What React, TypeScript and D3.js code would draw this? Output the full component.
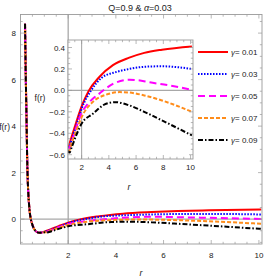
import React from "react";
import * as d3 from "d3";

// shared steep part near the origin (all curves overlap here)
const rNear = [0.19, 0.22, 0.25, 0.28, 0.31, 0.35, 0.4, 0.47, 0.56, 0.67, 0.8, 0.95];
const fNear = [8.4, 6.2, 4.5, 2.6, 1.5, 0.75, 0.2, -0.15, -0.4, -0.54, -0.59, -0.56];

const gammaLabels = ["0.01", "0.03", "0.05", "0.07", "0.09"];

const rRed = [1.1, 1.3, 1.6, 2, 2.5, 3.3, 4.3, 5.5, 6.6, 7.9, 10.1];
const fRed = [-0.5, -0.42, -0.3, -0.15, -0.01, 0.125, 0.235, 0.305, 0.35, 0.38, 0.41];
const rBlue = [1.1, 1.3, 1.6, 2, 2.7, 3.5, 4.5, 5.5, 6.6, 7.9, 10.1];
const fBlue = [-0.52, -0.45, -0.33, -0.17, 0, 0.12, 0.17, 0.2, 0.22, 0.225, 0.2];
const rMag = [1.1, 1.3, 1.6, 2, 2.3, 2.8, 3.3, 4.3, 5.5, 6.1, 7, 8.4, 10.1];
const fMag = [-0.54, -0.47, -0.35, -0.21, -0.15, -0.08, -0.03, 0.06, 0.1, 0.095, 0.075, 0.047, 0.005];
const rOrange = [1.1, 1.3, 1.6, 2, 2.8, 3.8, 4.8, 5.5, 6.6, 7.9, 10.1];
const fOrange = [-0.56, -0.48, -0.38, -0.25, -0.11, -0.04, -0.016, -0.02, -0.047, -0.094, -0.2];
const rBlack = [1.1, 1.3, 1.6, 2, 2.8, 3.8, 4.5, 5.5, 6.6, 7.9, 10.1];
const fBlack = [-0.58, -0.52, -0.42, -0.31, -0.22, -0.125, -0.11, -0.14, -0.2, -0.28, -0.42];

const mainXTicks = [2, 4, 6, 8, 10];
const mainYTicks = [0, 2, 4, 6, 8];
const insetXTicks = [2, 4, 6, 8, 10];
const insetYTicks = [0.4, 0.2, 0.0, -0.2, -0.4, -0.6];

const styles = [
  { color: "#ff0000", dash: "none" },
  { color: "#0000ff", dash: "1.5,1.5" },
  { color: "#ff00ff", dash: "7,4" },
  { color: "#ff8c1a", dash: "4,2" },
  { color: "#000000", dash: "5,2,1.5,2" },
];

const seriesR = [rRed, rBlue, rMag, rOrange, rBlack];
const seriesF = [fRed, fBlue, fMag, fOrange, fBlack];

const font = "'Liberation Sans', Arial, sans-serif";
const frameCol = "#9a9a9a";

function Frame({ x, y, xTicks, yTicks, xMinor, yMinor }: any) {
  const [x0, x1] = x.range();
  const [y0, y1] = y.range(); // y0 bottom, y1 top
  const els: any[] = [];
  const add = (k: string, a: number, b: number, c: number, d: number) =>
    els.push(<line key={k} x1={a} y1={b} x2={c} y2={d} stroke={frameCol} strokeWidth={0.7} />);
  xMinor.forEach((v: number, i: number) => {
    const px = x(v);
    const len = xTicks.includes(v) ? 4 : 2.2;
    add("xb" + i, px, y0, px, y0 - len);
    add("xt" + i, px, y1, px, y1 + len);
  });
  yMinor.forEach((v: number, i: number) => {
    const py = y(v);
    const len = yTicks.some((t: number) => Math.abs(t - v) < 1e-9) ? 4 : 2.2;
    add("yl" + i, x0, py, x0 + len, py);
    add("yr" + i, x1, py, x1 - len, py);
  });
  return (
    <g>
      {els}
      <rect x={x0} y={y1} width={x1 - x0} height={y0 - y1} fill="none" stroke={frameCol} strokeWidth={0.9} />
    </g>
  );
}

export default function App() {
  // main plot
  const x = d3.scaleLinear().domain([0, 10.13]).range([20.5, 262]);
  const y = d3.scaleLinear().domain([-1.07, 8.8]).range([244, 14.5]);
  // inset
  const xi = d3.scaleLinear().domain([1.0, 10.18]).range([68, 193]);
  const yi = d3.scaleLinear().domain([-0.64, 0.47]).range([159, 40]);

  const mainLine = d3.line<number[]>().x((d) => x(d[0])).y((d) => y(d[1])).curve(d3.curveMonotoneX);
  const insetLine = d3.line<number[]>().x((d) => xi(d[0])).y((d) => yi(d[1])).curve(d3.curveMonotoneX);

  const near = rNear.map((r, i) => [r, fNear[i]]);
  const series = seriesR.map((rs, s) => rs.map((r, i) => [r, seriesF[s][i]]));

  const mainXMinor = d3.range(0.5, 10.01, 0.5);
  const mainYMinor = d3.range(-1, 8.76, 0.5);
  const insetXMinor = d3.range(1.5, 10.01, 0.5);
  const insetYMinor = d3.range(-0.6, 0.451, 0.05).map((v) => Math.round(v * 100) / 100);

  return (
    <svg width={266} height={280} style={{ position: "absolute", left: 0, top: 0, background: "#fff" }} fontFamily={font}>
      <defs>
        <clipPath id="mainClip">
          <rect x={20.5} y={14.5} width={241.5} height={229.5} />
        </clipPath>
        <clipPath id="insetClip">
          <rect x={68} y={40} width={125} height={119} />
        </clipPath>
      </defs>

      <text x={140} y={11} fontSize={9} textAnchor="middle" fill="#222">
        Q=0.9 &amp; <tspan fontStyle="italic">α</tspan>=0.03
      </text>

      {/* main plot */}
      <line x1={x(2)} x2={x(2)} y1={y.range()[1]} y2={y.range()[0]} stroke="#a8a8a8" strokeWidth={1.3} />
      <line x1={x.range()[0]} x2={x.range()[1]} y1={y(0)} y2={y(0)} stroke="#a8a8a8" strokeWidth={1.3} />
      <g clipPath="url(#mainClip)">
        {series.map((pts, s) => (
          <path
            key={"m" + s}
            d={mainLine([...near, ...pts]) || ""}
            fill="none"
            stroke={styles[s].color}
            strokeWidth={2}
            strokeDasharray={styles[s].dash}
          />
        ))}
      </g>
      <Frame x={x} y={y} xTicks={mainXTicks} yTicks={mainYTicks} xMinor={mainXMinor} yMinor={mainYMinor} />
      {mainXTicks.map((t) => (
        <text key={"mx" + t} x={x(t)} y={258} fontSize={8} textAnchor="middle" fill="#222">
          {t}
        </text>
      ))}
      {mainYTicks.map((t) => (
        <text key={"my" + t} x={16} y={y(t) + 3} fontSize={8} textAnchor="end" fill="#222">
          {t}
        </text>
      ))}
      <text x={141} y={276} fontSize={9} fontStyle="italic" textAnchor="middle" fill="#222">r</text>
      <text x={10} y={130} fontSize={8.5} textAnchor="end" fill="#222">f(r)</text>

      {/* inset */}
      <rect x={68} y={40} width={125} height={119} fill="#fff" />
      <line x1={xi(2)} x2={xi(2)} y1={40} y2={159} stroke="#a8a8a8" strokeWidth={1.1} />
      <line x1={68} x2={193} y1={yi(0)} y2={yi(0)} stroke="#a8a8a8" strokeWidth={1.1} />
      <g clipPath="url(#insetClip)">
        {series.map((pts, s) => (
          <path
            key={"i" + s}
            d={insetLine([[0.95, -0.56], ...pts]) || ""}
            fill="none"
            stroke={styles[s].color}
            strokeWidth={2}
            strokeDasharray={styles[s].dash}
          />
        ))}
      </g>
      <Frame x={xi} y={yi} xTicks={insetXTicks} yTicks={insetYTicks} xMinor={insetXMinor} yMinor={insetYMinor} />
      {insetXTicks.map((t) => (
        <text key={"ix" + t} x={xi(t)} y={170} fontSize={8} textAnchor="middle" fill="#222">
          {t}
        </text>
      ))}
      {insetYTicks.map((t) => (
        <text key={"iy" + t} x={65} y={yi(t) + 3} fontSize={8} textAnchor="end" fill="#222">
          {d3.format(".1f")(t).replace("-", "-")}
        </text>
      ))}
      <text x={129} y={190} fontSize={9} fontStyle="italic" textAnchor="middle" fill="#222">r</text>
      <text x={40} y={101} fontSize={8.5} textAnchor="middle" fill="#222">f(r)</text>

      {/* legend */}
      {gammaLabels.map((g, i) => (
        <g key={"lg" + g} transform={`translate(0,${52 + 22 * i})`}>
          <line x1={198} x2={228} y1={0} y2={0} stroke={styles[i].color} strokeWidth={2} strokeDasharray={styles[i].dash} />
          <text x={231} y={3} fontSize={8} fill="#222">
            <tspan fontStyle="italic">γ</tspan>= {g}
          </text>
        </g>
      ))}
    </svg>
  );
}
